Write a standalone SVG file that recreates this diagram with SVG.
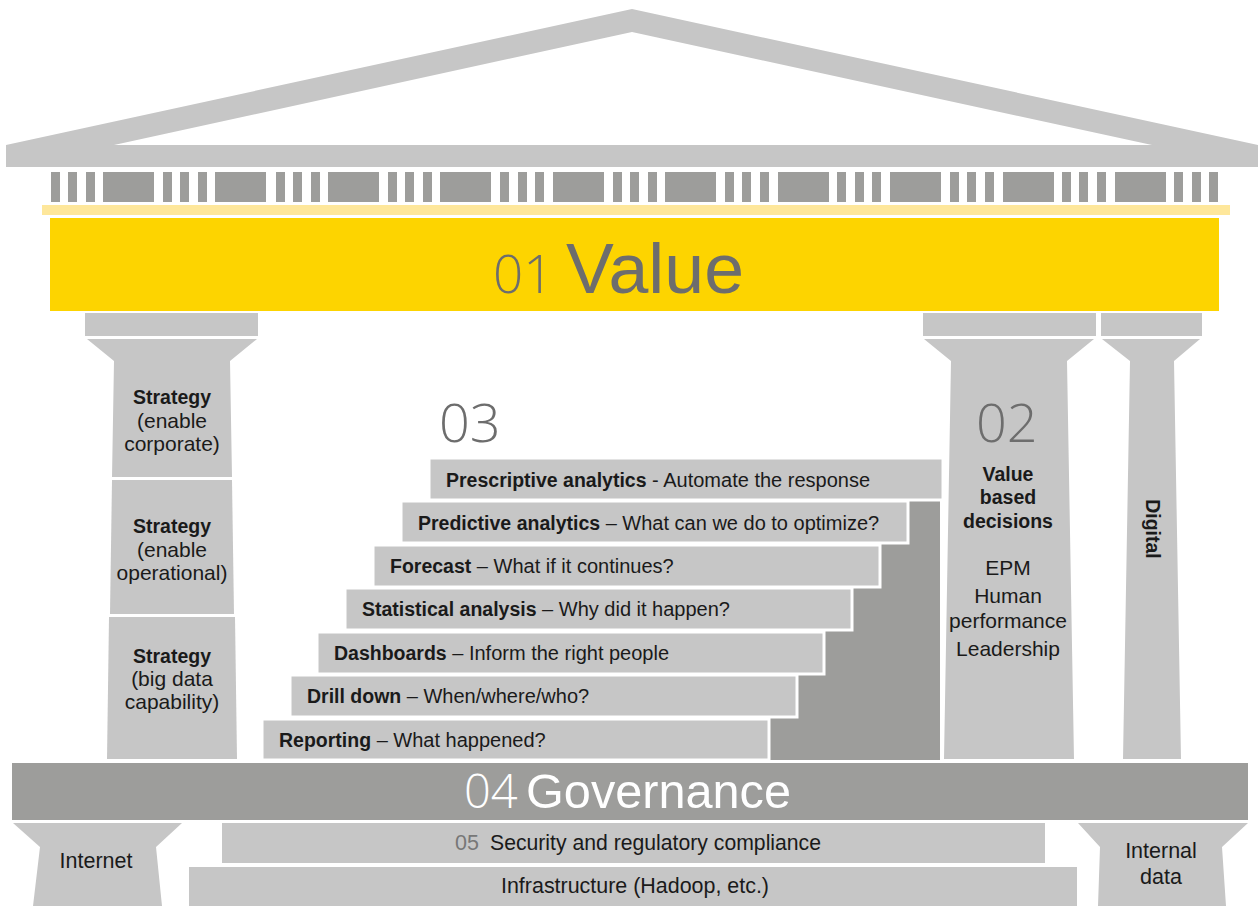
<svg xmlns="http://www.w3.org/2000/svg" width="1258" height="906" viewBox="0 0 1258 906">
<style>
.lt{fill:#c6c6c6}
.dk{fill:#9d9d9b}
.t{font-family:"Liberation Sans",Arial,sans-serif;font-size:20px;fill:#1a1a1a}
.r{font-size:21px}
.b{font-weight:bold;font-size:19.5px}
.c{text-anchor:middle}
.num{font-family:"Open Sans","Liberation Sans",sans-serif;font-weight:300;fill:#6d6d6d}
.step{fill:#c6c6c6;stroke:#fff;stroke-width:3}
</style>
<rect width="1258" height="906" fill="#fff"/>
<g id="roof">
<path class="lt" fill-rule="evenodd" d="M6,145 L632,9 L1258,145 L1258,167 L6,167 Z M114,145 L632,32 L1152,145 Z"/>
</g>
<g id="dentils" class="dk">
<rect x="51" y="172" width="9" height="30"/><rect x="68" y="172" width="9" height="30"/><rect x="86" y="172" width="9" height="30"/>
<rect x="103" y="172" width="51" height="30"/>
<rect x="163" y="172" width="9" height="30"/><rect x="180" y="172" width="9" height="30"/><rect x="198" y="172" width="9" height="30"/>
<rect x="215" y="172" width="51" height="30"/>
<rect x="276" y="172" width="9" height="30"/><rect x="293" y="172" width="9" height="30"/><rect x="311" y="172" width="9" height="30"/>
<rect x="328" y="172" width="51" height="30"/>
<rect x="388" y="172" width="9" height="30"/><rect x="405" y="172" width="9" height="30"/><rect x="423" y="172" width="9" height="30"/>
<rect x="440" y="172" width="51" height="30"/>
<rect x="500" y="172" width="9" height="30"/><rect x="518" y="172" width="9" height="30"/><rect x="535" y="172" width="9" height="30"/>
<rect x="553" y="172" width="51" height="30"/>
<rect x="613" y="172" width="9" height="30"/><rect x="630" y="172" width="9" height="30"/><rect x="648" y="172" width="9" height="30"/>
<rect x="665" y="172" width="51" height="30"/>
<rect x="725" y="172" width="9" height="30"/><rect x="742" y="172" width="9" height="30"/><rect x="760" y="172" width="9" height="30"/>
<rect x="778" y="172" width="51" height="30"/>
<rect x="837" y="172" width="9" height="30"/><rect x="855" y="172" width="9" height="30"/><rect x="872" y="172" width="9" height="30"/>
<rect x="890" y="172" width="51" height="30"/>
<rect x="950" y="172" width="9" height="30"/><rect x="967" y="172" width="9" height="30"/><rect x="985" y="172" width="9" height="30"/>
<rect x="1003" y="172" width="51" height="30"/>
<rect x="1062" y="172" width="9" height="30"/><rect x="1079" y="172" width="9" height="30"/><rect x="1097" y="172" width="9" height="30"/>
<rect x="1115" y="172" width="51" height="30"/>
<rect x="1174" y="172" width="9" height="30"/><rect x="1192" y="172" width="9" height="30"/><rect x="1209" y="172" width="9" height="30"/>
</g>
<g id="value">
<rect x="42" y="205" width="1188" height="10" fill="#fee79b"/>
<rect x="50" y="218" width="1169" height="93" fill="#fdd400"/>
<text x="493" y="293" class="num" font-size="53">01</text>
<text x="566" y="293" font-family="'Liberation Sans',Arial,sans-serif" font-size="71" fill="#6d6d6d" textLength="178" lengthAdjust="spacingAndGlyphs">Value</text>
</g>
<g id="strategy-column">
<rect class="lt" x="85" y="313" width="173" height="23"/>
<polygon class="lt" points="87,339 257,339 230,361 232,477 112,477 114,361"/>
<polygon class="lt" points="112,480 232,480 234,614 110,614"/>
<polygon class="lt" points="109,617 235,617 237,759 107,759"/>
<text class="t r c"><tspan class="b" x="172" y="404">Strategy</tspan><tspan x="172" y="428">(enable</tspan><tspan x="172" y="451">corporate)</tspan></text>
<text class="t r c"><tspan class="b" x="172" y="533">Strategy</tspan><tspan x="172" y="557">(enable</tspan><tspan x="172" y="580">operational)</tspan></text>
<text class="t r c"><tspan class="b" x="172" y="663">Strategy</tspan><tspan x="172" y="686">(big data</tspan><tspan x="172" y="709">capability)</tspan></text>
</g>
<g id="value-column">
<rect class="lt" x="923" y="313" width="173" height="23"/>
<polygon class="lt" points="924,339 1094,339 1067,361 1074,759 944,759 951,361"/>
<text x="976" y="442" class="num" font-size="54">02</text>
<text class="t r c"><tspan class="b" x="1008" y="481">Value</tspan><tspan class="b" x="1008" y="504">based</tspan><tspan class="b" x="1008" y="528">decisions</tspan><tspan x="1008" y="575">EPM</tspan><tspan x="1008" y="603">Human</tspan><tspan x="1008" y="628">performance</tspan><tspan x="1008" y="656">Leadership</tspan></text>
</g>
<g id="digital-column">
<rect class="lt" x="1101" y="313" width="101" height="23"/>
<polygon class="lt" points="1102,339 1200,339 1174,361 1181,759 1123,759 1130,361"/>
<text class="t b c" transform="translate(1146,529) rotate(90)" x="0" y="0">Digital</text>
</g>
<g id="analytics-steps">
<text x="439" y="442" class="num" font-size="54">03</text>
<rect x="770" y="501" width="170" height="259" class="dk"/>
<rect class="step" x="262" y="719" width="507" height="41"/>
<rect class="step" x="290" y="675" width="507" height="42"/>
<rect class="step" x="317" y="632" width="507" height="42"/>
<rect class="step" x="345" y="588" width="507" height="42"/>
<rect class="step" x="373" y="545" width="507" height="42"/>
<rect class="step" x="401" y="501" width="507" height="42"/>
<rect class="step" x="429" y="458" width="514" height="42"/>
<text class="t" x="446" y="487"><tspan class="b">Prescriptive analytics</tspan> - Automate the response</text>
<text class="t" x="418" y="530"><tspan class="b">Predictive analytics</tspan> – What can we do to optimize?</text>
<text class="t" x="390" y="573"><tspan class="b">Forecast</tspan> – What if it continues?</text>
<text class="t" x="362" y="616"><tspan class="b">Statistical analysis</tspan> – Why did it happen?</text>
<text class="t" x="334" y="660"><tspan class="b">Dashboards</tspan> – Inform the right people</text>
<text class="t" x="307" y="703"><tspan class="b">Drill down</tspan> – When/where/who?</text>
<text class="t" x="279" y="747"><tspan class="b">Reporting</tspan> – What happened?</text>
</g>
<g id="governance">
<rect class="dk" x="12" y="763" width="1236" height="57"/>
<text x="464" y="808" font-family="'Open Sans','Liberation Sans',sans-serif" font-weight="300" font-size="47" fill="#fff">04</text>
<text x="526" y="808" font-family="'Liberation Sans',Arial,sans-serif" font-size="48" fill="#fff" textLength="265" lengthAdjust="spacingAndGlyphs">Governance</text>
</g>
<g id="internet">
<polygon class="lt" points="13,823 182,823 156,847 162,906 33,906 40,847"/>
<text class="t c" x="96" y="868" font-size="21.5" style="font-size:21.5px">Internet</text>
</g>
<g id="security">
<rect class="lt" x="222" y="823" width="823" height="40"/>
<text class="t" x="455" y="850" style="font-size:21.5px"><tspan fill="#777">05</tspan><tspan x="490" textLength="331" lengthAdjust="spacingAndGlyphs">Security and regulatory compliance</tspan></text>
</g>
<g id="infrastructure">
<rect class="lt" x="189" y="867" width="888" height="39"/>
<text class="t" x="501" y="893" style="font-size:21.5px" textLength="268" lengthAdjust="spacingAndGlyphs">Infrastructure (Hadoop, etc.)</text>
</g>
<g id="internal-data">
<polygon class="lt" points="1078,823 1248,823 1222,847 1226,906 1098,906 1100,847"/>
<text class="t c" style="font-size:21.5px"><tspan x="1161" y="858">Internal</tspan><tspan x="1161" y="884">data</tspan></text>
</g>
<g id="connectors"></g>
</svg>
